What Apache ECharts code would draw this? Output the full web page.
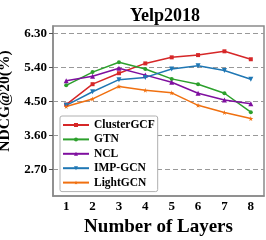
<!DOCTYPE html>
<html><head><meta charset="utf-8">
<script src="https://cdn.jsdelivr.net/npm/echarts@6/dist/echarts.min.js"></script>
<style>html,body{margin:0;padding:0;background:#fff}#c{width:266px;height:240px}</style>
</head><body><div id="c"></div>
<script>
const layers = ['1','2','3','4','5','6','7','8'];
const yTicks = [2.70, 3.60, 4.50, 5.40, 6.30];
const clusterGCF = [4.42, 4.96, 5.25, 5.51, 5.67, 5.73, 5.83, 5.62];
const gtn        = [4.93, 5.28, 5.54, 5.36, 5.10, 4.96, 4.72, 4.22];
const ncl        = [5.05, 5.17, 5.38, 5.20, 5.01, 4.72, 4.54, 4.44];
const impGCN     = [4.40, 4.76, 5.08, 5.14, 5.36, 5.45, 5.32, 5.09];
const lightGCN   = [4.37, 4.57, 4.90, 4.80, 4.73, 4.40, 4.21, 4.05];

const F = '"Liberation Serif","Times New Roman",serif';
const star = 'path://M50,0 L61,35 L98,35 L68,57 L79,91 L50,70 L21,91 L32,57 L2,35 L39,35 Z';
function s(name, data, color, symbol, size, rot) {
  return {name, type:'line', data, symbol, symbolSize:size, symbolRotate:rot||0,
    lineStyle:{color, width:1.5}, itemStyle:{color}, emphasis:{disabled:true}};
}
const chart = echarts.init(document.getElementById('c'), null, {renderer:'canvas'});
chart.setOption({
  animation:false,
  title:{text:'Yelp2018', left:160, top:2, textAlign:'center',
    textStyle:{fontFamily:F, fontWeight:'bold', fontSize:18, color:'#000'}},
  grid:{left:53, right:2, top:26, bottom:44, containLabel:false, outerBoundsMode:'none',
    show:true, borderColor:'#8a8a8a', borderWidth:1.5, backgroundColor:'transparent'},
  legend:{left:60, top:116, orient:'vertical', itemWidth:26, itemHeight:5, itemGap:2.4,
    padding:[3,3,3,2], backgroundColor:'#fff', borderColor:'#b0b0b0', borderWidth:1, borderRadius:2,
    textStyle:{fontFamily:F, fontWeight:'bold', fontSize:11.5, color:'#000', lineHeight:12},
    data:['ClusterGCF','GTN','NCL','IMP-GCN','LightGCN']},
  xAxis:{type:'category', data:layers, boundaryGap:true,
    name:'Number of Layers', nameLocation:'middle', nameGap:22,
    nameTextStyle:{fontFamily:F, fontWeight:'bold', fontSize:19, color:'#000'},
    axisLine:{lineStyle:{color:'#8a8a8a', width:1.5}},
    axisTick:{inside:true, length:3, alignWithLabel:true, lineStyle:{color:'#555'}},
    axisLabel:{margin:4, fontFamily:F, fontWeight:'bold', fontSize:13, color:'#000'},
    splitLine:{show:false}},
  yAxis:{type:'value', min:2.0, max:6.5,
    name:'NDCG@20(%)', nameLocation:'middle', nameGap:28, nameRotate:90,
    nameTextStyle:{fontFamily:F, fontWeight:'bold', fontSize:15.5, color:'#000', padding:[0,0,0,20]},
    axisLine:{show:true, lineStyle:{color:'#8a8a8a', width:1.5}},
    axisTick:{show:true, length:4, customValues:yTicks, lineStyle:{color:'#555'}},
    axisLabel:{margin:6, customValues:yTicks, fontFamily:F, fontWeight:'bold', fontSize:13, color:'#000',
      formatter:v=>v.toFixed(2)},
    splitLine:{show:true, lineStyle:{color:'#999', type:[5,3], width:1}}},
  series:[
    s('ClusterGCF', clusterGCF, '#d62728', 'rect', 4),
    s('GTN', gtn, '#2ca02c', 'circle', 4),
    s('NCL', ncl, '#7f0f9f', 'triangle', 5),
    s('IMP-GCN', impGCN, '#1f77b4', 'triangle', 5, 180),
    s('LightGCN', lightGCN, '#f07010', star, 5)
  ]
});
</script></body></html>
